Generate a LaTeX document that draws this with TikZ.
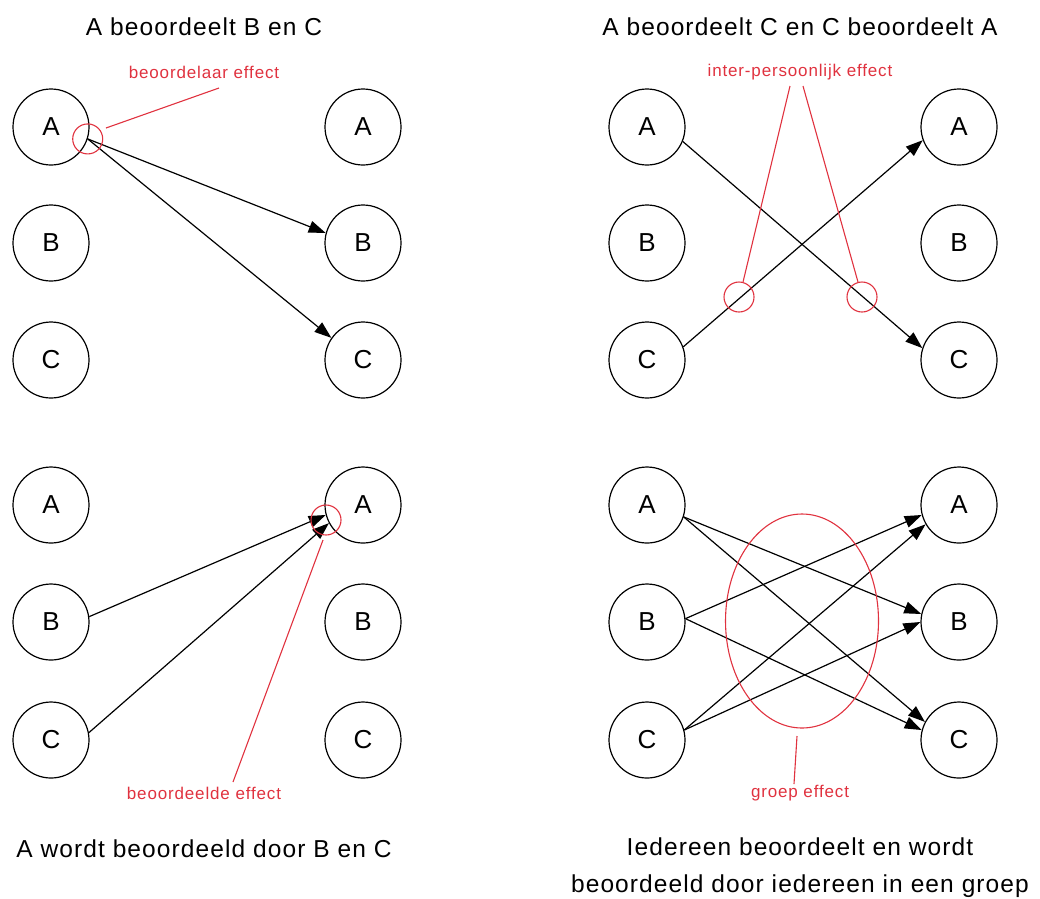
\documentclass[tikz,border=0pt]{standalone}
\usepackage{fontspec}
\setmainfont{Liberation Sans}
\usetikzlibrary{arrows.meta,shapes.geometric}
\definecolor{effred}{HTML}{E0323F}
\tikzset{
  person/.style={circle,draw,line width=1.2pt,minimum size=76pt,inner sep=0pt,font=\fontsize{26}{26}\selectfont},
  rel/.style={line width=1.2pt,-{Triangle[length=17pt,width=12pt]}},
  eff/.style={draw=effred,line width=1.1pt},
  efftext/.style={text=effred,font=\fontsize{17}{17}\selectfont\addfontfeature{LetterSpace=5},inner sep=0pt},
  title/.style={font=\fontsize{24.5}{37}\selectfont\addfontfeature{LetterSpace=4.5},inner sep=0pt,align=center}
}
\begin{document}
\begin{tikzpicture}[x=1pt,y=-1pt]
\useasboundingbox (0,0) rectangle (1040,898);
% titles
\node[title] (t1) at (204,27) {A beoordeelt B en C};
\node[title] (t2) at (800,27) {A beoordeelt C en C beoordeelt A};
\node[title] (t3) at (204,849) {A wordt beoordeeld door B en C};
\node[title] (t4) at (800,868) {Iedereen beoordeelt en wordt\\beoordeeld door iedereen in een groep};

% panel 1
\node[person] (p1a) at (51,127) {A};
\node[person] (p1b) at (51,243) {B};
\node[person] (p1c) at (51,360) {C};
\node[person] (q1a) at (363,127) {A};
\node[person] (q1b) at (363,243) {B};
\node[person] (q1c) at (363,360) {C};
\coordinate (s1) at (p1a.-18);
\draw[rel] (s1) -- (q1b.165);
\draw[rel] (s1) -- (q1c.145);
\node[eff,circle,minimum size=30pt,inner sep=0pt] (e1) at (s1) {};
\node[efftext] (l1) at (204,72) {beoordelaar effect};
\coordinate (l1a) at (219,88);
\coordinate (l1b) at (106,128);
\draw[eff] (l1a) -- (l1b);

% panel 2
\node[person] (p2a) at (647,127) {A};
\node[person] (p2b) at (647,243) {B};
\node[person] (p2c) at (647,360) {C};
\node[person] (q2a) at (959,127) {A};
\node[person] (q2b) at (959,243) {B};
\node[person] (q2c) at (959,360) {C};
\draw[rel] (p2a.-22) -- (q2c.162);
\draw[rel] (p2c.20) -- (q2a.200);
\node[eff,circle,minimum size=30pt,inner sep=0pt] (e2a) at (739,297) {};
\node[eff,circle,minimum size=30pt,inner sep=0pt] (e2b) at (862,297) {};
\node[efftext] (l2) at (800,72) {inter-persoonlijk effect};
\coordinate (l2a) at (790,86);
\coordinate (l2b) at (803,86);
\draw[eff] (l2a) -- (e2a.75);
\draw[eff] (l2b) -- (e2b.105);

% panel 3
\node[person] (p3a) at (51,505) {A};
\node[person] (p3b) at (51,622) {B};
\node[person] (p3c) at (51,740) {C};
\node[person] (q3a) at (363,505) {A};
\node[person] (q3b) at (363,622) {B};
\node[person] (q3c) at (363,740) {C};
\draw[rel] (p3b.8) -- (q3a.195);
\draw[rel] (p3c.11) -- (q3a.208);
\node[eff,circle,minimum size=30pt,inner sep=0pt] (e3) at (326,520) {};
\node[efftext] (l3) at (204,793) {beoordeelde effect};
\coordinate (l3a) at (233,782);
\coordinate (l3b) at (323,540);
\draw[eff] (l3a) -- (l3b);

% panel 4
\node[person] (p4a) at (647,505) {A};
\node[person] (p4b) at (647,622) {B};
\node[person] (p4c) at (647,740) {C};
\node[person] (q4a) at (959,505) {A};
\node[person] (q4b) at (959,622) {B};
\node[person] (q4c) at (959,740) {C};
\draw[rel] (p4a.-18) -- (q4b.168);
\draw[rel] (p4a.-18) -- (q4c.152);
\draw[rel] (p4b.5) -- (q4a.195);
\draw[rel] (p4b.5) -- (q4c.165);
\draw[rel] (p4c.15) -- (q4a.210);
\draw[rel] (p4c.15) -- (q4b.180);
\node[eff,ellipse,minimum width=153pt,minimum height=214pt,inner sep=0pt] (e4) at (802,621) {};
\node[efftext] (l4) at (800,793) {groep effect};
\coordinate (l4a) at (797,736);
\coordinate (l4b) at (794,784);
\draw[eff] (l4a) -- (l4b);
\end{tikzpicture}
\end{document}
